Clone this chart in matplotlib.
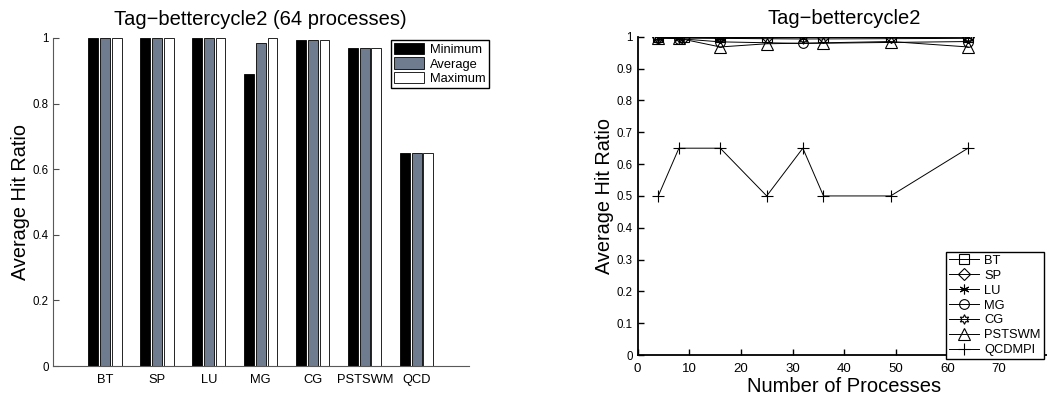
import numpy as np
import matplotlib.pyplot as plt
from matplotlib.ticker import FormatStrFormatter

plt.rcParams['font.family'] = ['Liberation Sans', 'DejaVu Sans']

# bar chart: hit ratio over 64 processes
benchmarks = ['BT', 'SP', 'LU', 'MG', 'CG', 'PSTSWM', 'QCD']
hit_min = [0.999, 1.0, 1.0, 0.889, 0.995, 0.970, 0.650]
hit_avg = [0.999, 1.0, 1.0, 0.985, 0.995, 0.970, 0.650]
hit_max = [0.999, 1.0, 1.0, 1.0, 0.995, 0.970, 0.650]

# line chart: average hit ratio vs number of processes
bt_n = [4, 9, 16, 25, 36, 49, 64]
bt_y = [0.999, 0.998, 0.998, 0.998, 0.998, 0.998, 0.999]
sp_n = [4, 9, 16, 25, 36, 49, 64]
sp_y = [0.999, 0.999, 0.998, 0.999, 0.999, 0.999, 1.0]
lu_n = [4, 8, 16, 32, 64]
lu_y = [0.997, 0.996, 0.996, 0.997, 0.999]
mg_n = [4, 8, 16, 32, 64]
mg_y = [0.996, 0.994, 0.984, 0.979, 0.985]
cg_n = [4, 8, 16, 32, 64]
cg_y = [0.998, 0.997, 0.995, 0.993, 0.995]
ps_n = [4, 8, 16, 25, 36, 49, 64]
ps_y = [0.996, 0.995, 0.968, 0.978, 0.981, 0.985, 0.968]
qcd_n = [4, 8, 16, 25, 32, 36, 49, 64]
qcd_y = [0.5, 0.65, 0.65, 0.5, 0.65, 0.5, 0.5, 0.65]

fig = plt.figure(figsize=(10.47, 4.04), dpi=100)

# ---- left: grouped bars ----
ax1 = fig.add_axes([0.0506, 0.094, 0.397, 0.812])
x = np.arange(1, len(benchmarks) + 1)
w = 0.19
ax1.bar(x - 0.225, hit_min, w, color='black', edgecolor='black', lw=0.6, label='Minimum')
ax1.bar(x, hit_avg, w, color='#6f7b8f', edgecolor='black', lw=0.6, label='Average')
ax1.bar(x + 0.225, hit_max, w, color='white', edgecolor='black', lw=0.6, label='Maximum')
ax1.set_xlim(0, 8)
ax1.set_ylim(0, 1)
ax1.set_xticks(x)
ax1.set_xticklabels(benchmarks, fontsize=9.3)
ax1.set_yticks(np.arange(0, 1.01, 0.2))
ax1.yaxis.set_major_formatter(FormatStrFormatter('%g'))
ax1.tick_params(axis='y', direction='in', length=4, labelsize=8.3, color='0.3', pad=3)
ax1.tick_params(axis='x', length=0, pad=6)
for s in ['top', 'right']:
    ax1.spines[s].set_visible(False)
for s in ['left', 'bottom']:
    ax1.spines[s].set_color('0.35')
ax1.set_title('Tag\u2212bettercycle2 (64 processes)', fontsize=14.5, pad=9)
ax1.set_ylabel('Average Hit Ratio', fontsize=14.3)
ax1.yaxis.set_label_coords(-0.055, 0.5)
fig.legend(*ax1.get_legend_handles_labels(), loc='upper left',
           bbox_to_anchor=(0.3735, 0.902), fontsize=9.3, frameon=True,
           fancybox=False, edgecolor='black', framealpha=1, borderpad=0.25,
           labelspacing=0.1, handlelength=2.3, handleheight=1.0,
           handletextpad=0.5, borderaxespad=0)

# ---- right: lines vs process count ----
ax2 = fig.add_axes([0.609, 0.121, 0.3945, 0.788])
mk = dict(color='black', lw=0.7, mfc='none', mec='black', ms=7, mew=0.8)
ax2.plot(bt_n, bt_y, marker='s', label='BT', **mk)
ax2.plot(sp_n, sp_y, marker='D', label='SP', **{**mk, 'ms': 6})
ax2.plot(lu_n, lu_y, marker=(6, 2, 0), label='LU', **mk)
ax2.plot(mg_n, mg_y, marker='o', label='MG', **mk)
ax2.plot(cg_n, cg_y, marker=(6, 1, 0), label='CG', **mk)
ax2.plot(ps_n, ps_y, marker='^', label='PSTSWM', **{**mk, 'ms': 8})
ax2.plot(qcd_n, qcd_y, marker='+', label='QCDMPI', **{**mk, 'ms': 9})
ax2.set_xlim(0, 80)
ax2.set_ylim(0, 1)
ax2.set_xticks(np.arange(0, 71, 10))
ax2.set_yticks(np.arange(0, 1.01, 0.1))
ax2.yaxis.set_major_formatter(FormatStrFormatter('%g'))
ax2.tick_params(direction='in', length=4, width=1, labelsize=8.3)
ax2.tick_params(axis='x', labelsize=9.5, pad=6)
for s in ['top', 'right']:
    ax2.spines[s].set_visible(False)
for s in ['left', 'bottom']:
    ax2.spines[s].set_linewidth(1.3)
ax2.set_title('Tag\u2212bettercycle2', fontsize=14.5, pad=9)
ax2.set_xlabel('Number of Processes', fontsize=14.5, labelpad=1)
ax2.set_ylabel('Average Hit Ratio', fontsize=14.3)
ax2.yaxis.set_label_coords(-0.058, 0.5)
fig.legend(*ax2.get_legend_handles_labels(), loc='upper left',
           bbox_to_anchor=(0.9035, 0.377), fontsize=9.3, frameon=True,
           fancybox=False, edgecolor='black', framealpha=1, borderpad=0.25,
           labelspacing=0.22, handlelength=2.3, handletextpad=0.4,
           borderaxespad=0)

fig.savefig('out.png', dpi=100)
